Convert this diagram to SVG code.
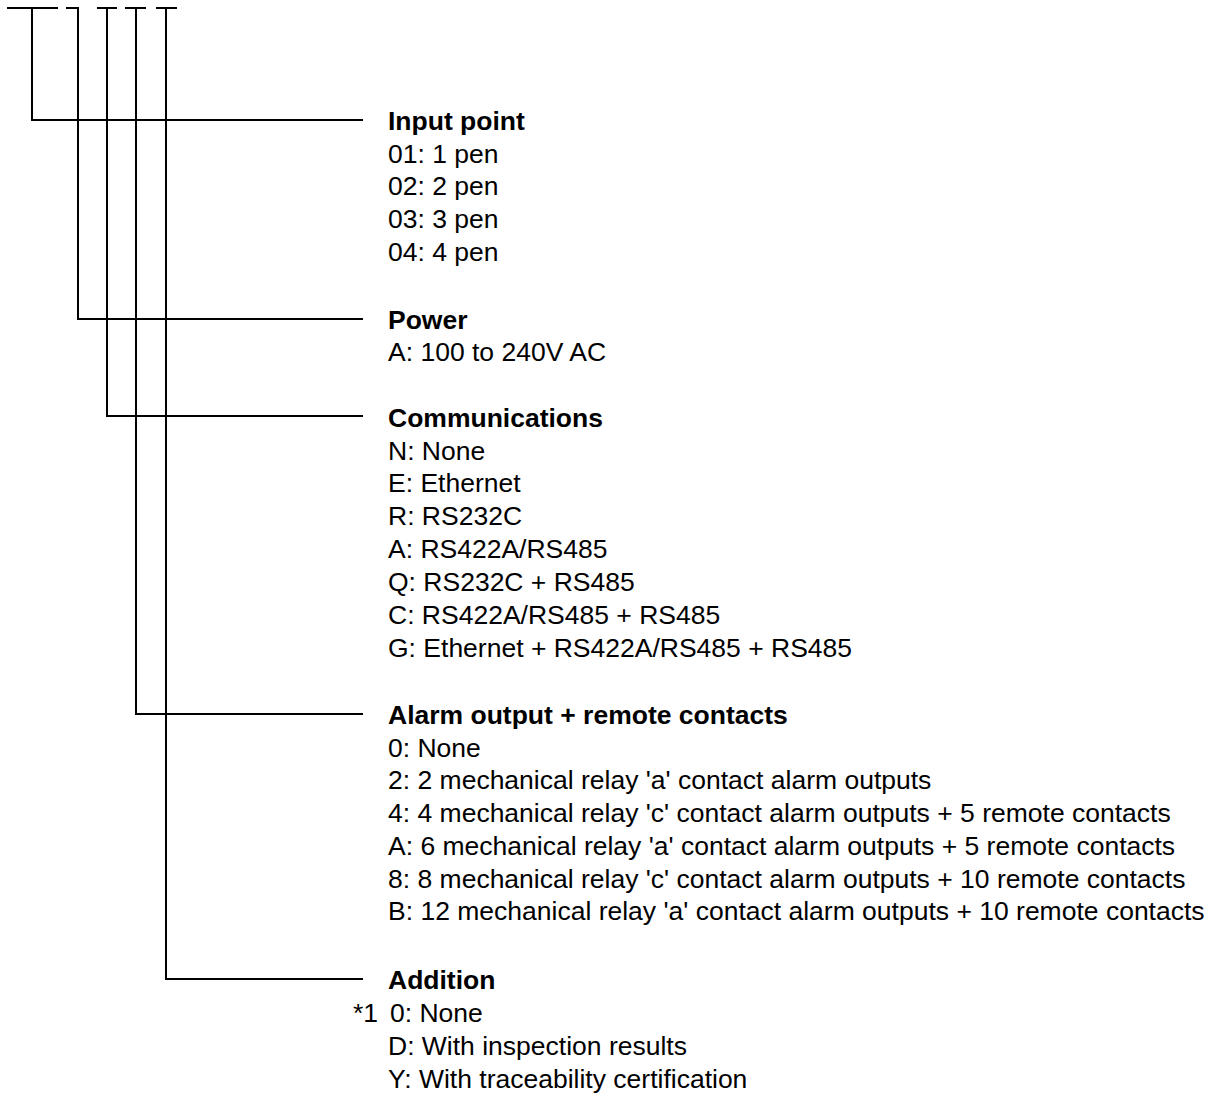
<svg xmlns="http://www.w3.org/2000/svg" width="1222" height="1093" viewBox="0 0 1222 1093">
<style>
.ln{stroke:#000;stroke-width:2;fill:none;stroke-linecap:butt}
text{font-family:"Liberation Sans",Arial,sans-serif;font-size:26.5px;fill:#000}
.h{font-weight:bold}
</style>
<rect width="1222" height="1093" fill="#fff"/>
<g id="connectors">
<path class="ln" d="M7 8H58M66 8H79M97 8H117M125 8H146M156 8H177"/>
<path class="ln" d="M32 8V120H363"/>
<path class="ln" d="M78 8V319H363"/>
<path class="ln" d="M107 8V416H363"/>
<path class="ln" d="M136 8V714H363"/>
<path class="ln" d="M166 8V979H363"/>
</g>
<g id="input-point">
<text class="h" x="388" y="129.5">Input point</text>
<text x="388" y="162.5">01: 1 pen</text>
<text x="388" y="195">02: 2 pen</text>
<text x="388" y="227.5">03: 3 pen</text>
<text x="388" y="260.5">04: 4 pen</text>
</g>
<g id="power">
<text class="h" x="388" y="328.5">Power</text>
<text x="388" y="361">A: 100 to 240V AC</text>
</g>
<g id="communications">
<text class="h" x="388" y="426.5">Communications</text>
<text x="388" y="459.5">N: None</text>
<text x="388" y="492">E: Ethernet</text>
<text x="388" y="525">R: RS232C</text>
<text x="388" y="557.5">A: RS422A/RS485</text>
<text x="388" y="590.5">Q: RS232C + RS485</text>
<text x="388" y="623.5">C: RS422A/RS485 + RS485</text>
<text x="388" y="656.5">G: Ethernet + RS422A/RS485 + RS485</text>
</g>
<g id="alarm-output">
<text class="h" x="388" y="723.5">Alarm output + remote contacts</text>
<text x="388" y="756.5">0: None</text>
<text x="388" y="789">2: 2 mechanical relay 'a' contact alarm outputs</text>
<text x="388" y="821.5">4: 4 mechanical relay 'c' contact alarm outputs + 5 remote contacts</text>
<text x="388" y="854.5">A: 6 mechanical relay 'a' contact alarm outputs + 5 remote contacts</text>
<text x="388" y="887.5">8: 8 mechanical relay 'c' contact alarm outputs + 10 remote contacts</text>
<text x="388" y="920">B: 12 mechanical relay 'a' contact alarm outputs + 10 remote contacts</text>
</g>
<g id="addition">
<text class="h" x="388" y="989">Addition</text>
<text x="353" y="1022">*1</text>
<text x="390" y="1022">0: None</text>
<text x="388" y="1054.5">D: With inspection results</text>
<text x="388" y="1087.5">Y: With traceability certification</text>
</g>
</svg>
